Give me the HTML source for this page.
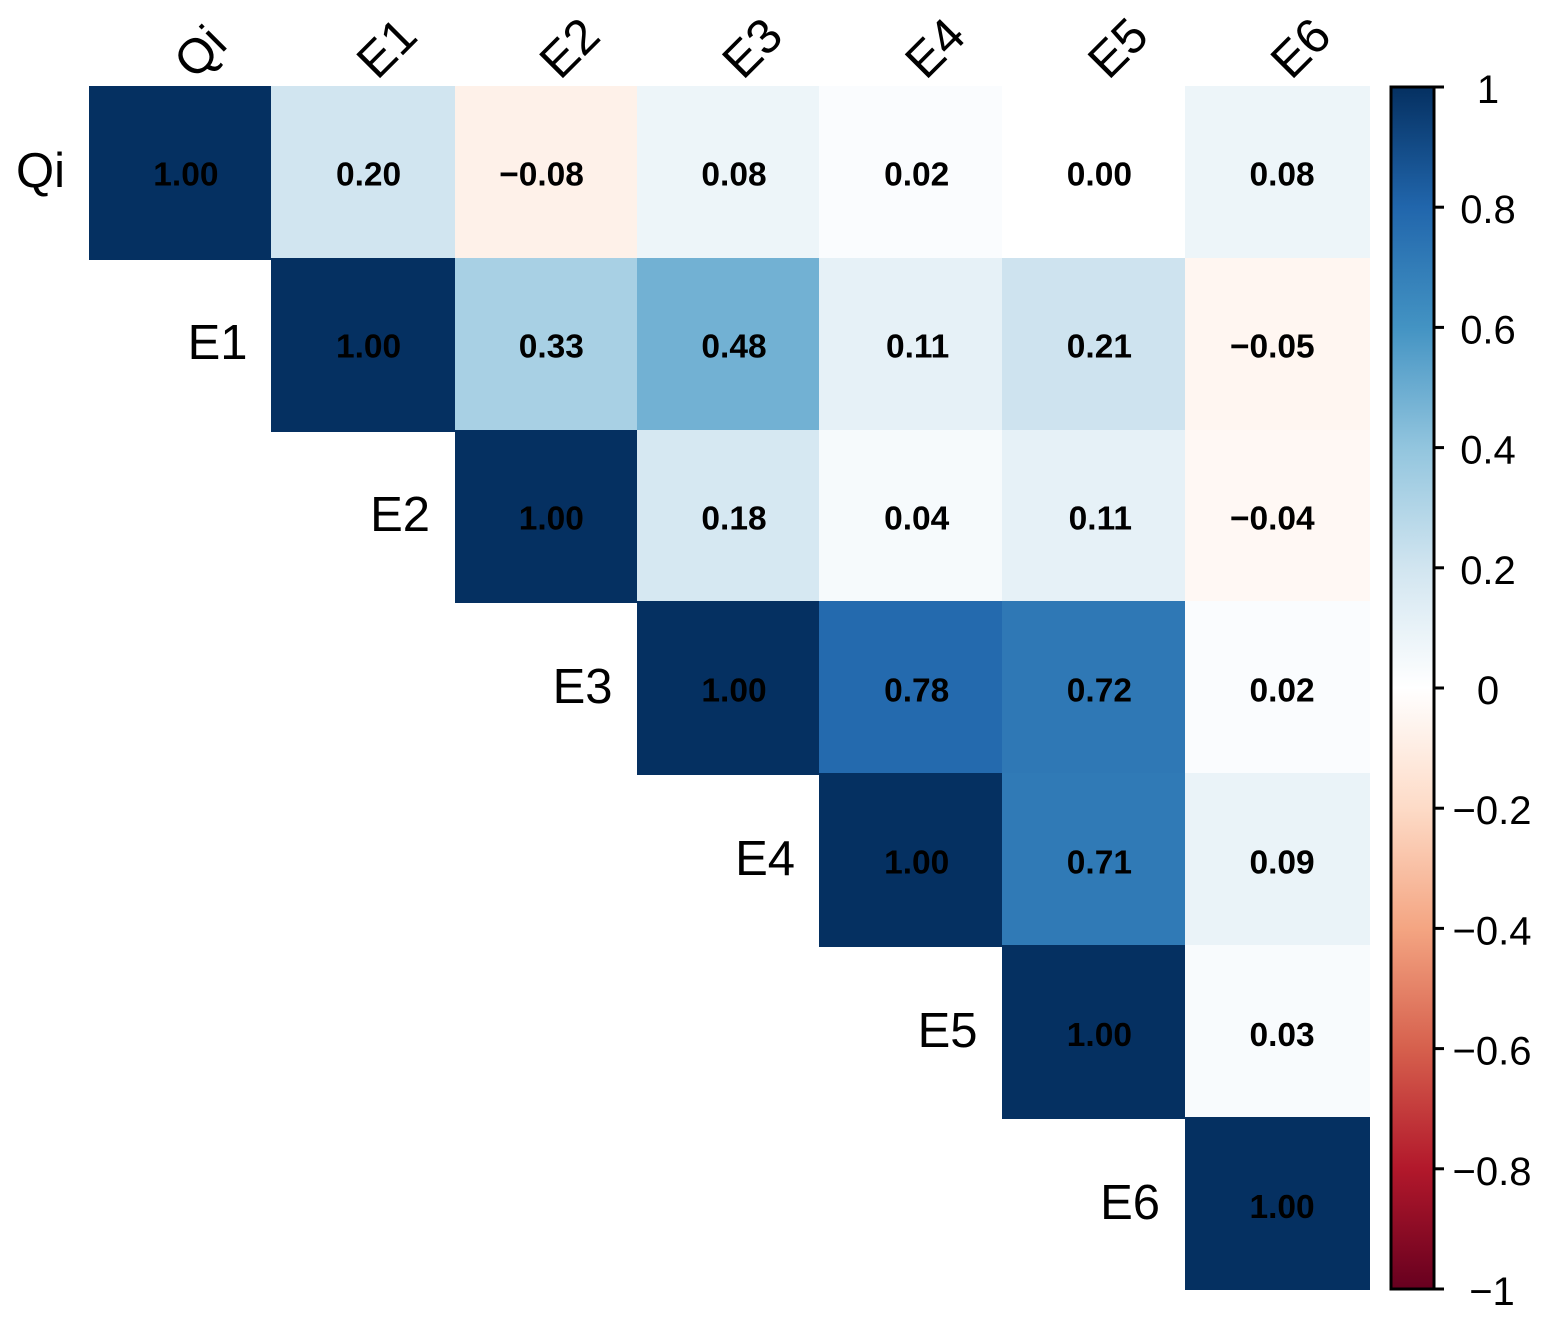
<!DOCTYPE html>
<html lang="en">
<head>
<meta charset="utf-8">
<title>Correlation matrix</title>
<style>
  html, body { margin: 0; padding: 0; background: #fff; }
  svg { display: block; font-family: "Liberation Sans", Arial, sans-serif; }
</style>
</head>
<body>
<svg id="chart" xmlns="http://www.w3.org/2000/svg" width="1555" height="1341" viewBox="0 0 1555 1341">
  <rect x="0" y="0" width="1555" height="1341" fill="#ffffff"/>
  <defs>
    <linearGradient id="bar-gradient" x1="0" y1="1" x2="0" y2="0"></linearGradient>
  </defs>
  <g id="cells"></g>
  <g id="values"></g>
  <g id="x-labels"></g>
  <g id="y-labels"></g>
  <g id="legend"></g>
</svg>
<script>
const variables = ["Qi", "E1", "E2", "E3", "E4", "E5", "E6"];
const rowQi = [1.00, 0.20, -0.08, 0.08, 0.02, 0.00, 0.08];
const rowE1 = [null, 1.00, 0.33, 0.48, 0.11, 0.21, -0.05];
const rowE2 = [null, null, 1.00, 0.18, 0.04, 0.11, -0.04];
const rowE3 = [null, null, null, 1.00, 0.78, 0.72, 0.02];
const rowE4 = [null, null, null, null, 1.00, 0.71, 0.09];
const rowE5 = [null, null, null, null, null, 1.00, 0.03];
const rowE6 = [null, null, null, null, null, null, 1.00];
const matrix = [rowQi, rowE1, rowE2, rowE3, rowE4, rowE5, rowE6];
const legendTicks = [1, 0.8, 0.6, 0.4, 0.2, 0, -0.2, -0.4, -0.6, -0.8, -1];
const paletteColors = ["#67001F", "#B2182B", "#D6604D", "#F4A582", "#FDDBC7", "#FFFFFF", "#D1E5F0", "#92C5DE", "#4393C3", "#2166AC", "#053061"];

const NS = "http://www.w3.org/2000/svg";
const plotLeft = 89, plotTop = 86, plotBottom = 1290;
const barLeft = 1391, barRight = 1434, barTop = 87, barBottom = 1289;

function xEdge(i) {
  const nudge = i >= 7 ? 5 : i >= 6 ? 2.2 : i >= 2 ? 1 : 0;
  return Math.round(plotLeft + i * 182.3 + nudge);
}
function yEdge(j) { return Math.round(plotTop + j * 171.8); }
function valueX(c) { return 218.5 + c * 182.7; }
function valueY(r) { return 185.3 + r * 172.1; }
function rowLabelX(r) { return 65 + r * 182.5; }
function rowLabelY(r) { return 187 + r * 172; }
function colLabelX(c) { return 194.5 + c * 182.8; }
function legendY(v) { return barTop + (1 - v) / 2 * (barBottom - barTop); }
function hexToRgb(h) {
  return [parseInt(h.slice(1, 3), 16), parseInt(h.slice(3, 5), 16), parseInt(h.slice(5, 7), 16)];
}
function colorFor(v) {
  const p = Math.max(0, Math.min(1, (v + 1) / 2)) * (paletteColors.length - 1);
  const i = Math.min(Math.floor(p), paletteColors.length - 2);
  const t = p - i;
  const a = hexToRgb(paletteColors[i]), b = hexToRgb(paletteColors[i + 1]);
  return "rgb(" + a.map(function (c, k) { return Math.round(c + (b[k] - c) * t); }).join(",") + ")";
}
function fmt(v, digits) {
  const s = Math.abs(v).toFixed(digits);
  return (v < 0 ? "\u2212" : "") + s;
}
function svgEl(tag, attrs, parent) {
  const el = document.createElementNS(NS, tag);
  for (const k in attrs) el.setAttribute(k, attrs[k]);
  parent.appendChild(el);
  return el;
}

const cellsG = document.getElementById("cells");
const valuesG = document.getElementById("values");
const xG = document.getElementById("x-labels");
const yG = document.getElementById("y-labels");
const legendG = document.getElementById("legend");

// Off-diagonal cells first, so the saturated cells overlap them as in the reference
function drawCell(r, c, v, extra) {
  const top = yEdge(r);
  const bottom = Math.min(yEdge(r + 1) + extra, plotBottom);
  const rect = svgEl("rect", {
    x: xEdge(c),
    y: top,
    width: xEdge(c + 1) - xEdge(c),
    height: bottom - top,
    fill: colorFor(v)
  }, cellsG);
  
  
}
matrix.forEach(function (row, r) {
  row.forEach(function (v, c) {
    if (v !== null && r !== c) drawCell(r, c, v, 0);
  });
});
matrix.forEach(function (row, r) {
  row.forEach(function (v, c) {
    if (v !== null && r === c) drawCell(r, c, v, 2);
  });
});

matrix.forEach(function (row, r) {
  row.forEach(function (v, c) {
    if (v === null) return;
    const t = svgEl("text", {
      x: valueX(c),
      y: valueY(r),
      "text-anchor": "end",
      "font-size": 33.5,
      "font-weight": "bold",
      fill: "#000000"
    }, valuesG);
    t.textContent = fmt(v, 2);
    
    
  });
});

variables.forEach(function (name, i) {
  const px = colLabelX(i);
  const tx = svgEl("text", {
    x: px, y: 81,
    transform: "rotate(-45 " + px + " 81)",
    "font-size": 49,
    fill: "#000000"
  }, xG);
  tx.textContent = name;
  
  

  const ty = svgEl("text", {
    x: rowLabelX(i),
    y: rowLabelY(i),
    "text-anchor": "end",
    "font-size": 49,
    fill: "#000000"
  }, yG);
  ty.textContent = name;
  
  
});

// Legend colour bar
const grad = document.getElementById("bar-gradient");
paletteColors.forEach(function (col, i) {
  svgEl("stop", { offset: (i / (paletteColors.length - 1) * 100) + "%", "stop-color": col }, grad);
});
const bar = svgEl("rect", {
  x: barLeft, y: barTop,
  width: barRight - barLeft, height: barBottom - barTop,
  fill: "url(#bar-gradient)",
  stroke: "#000000", "stroke-width": 3
}, legendG);



legendTicks.forEach(function (v) {
  const y = legendY(v);
  const tick = svgEl("line", {
    x1: barRight, x2: 1444, y1: y, y2: y,
    stroke: "#000000", "stroke-width": 3
  }, legendG);
  
  
  const label = svgEl("text", {
    x: v < 0 ? 1492 : 1488,
    y: y + 16,
    "text-anchor": "middle",
    "font-size": 40,
    fill: "#000000"
  }, legendG);
  label.textContent = fmt(v, Number.isInteger(v) ? 0 : 1);
  
  
});
</script>
</body>
</html>
